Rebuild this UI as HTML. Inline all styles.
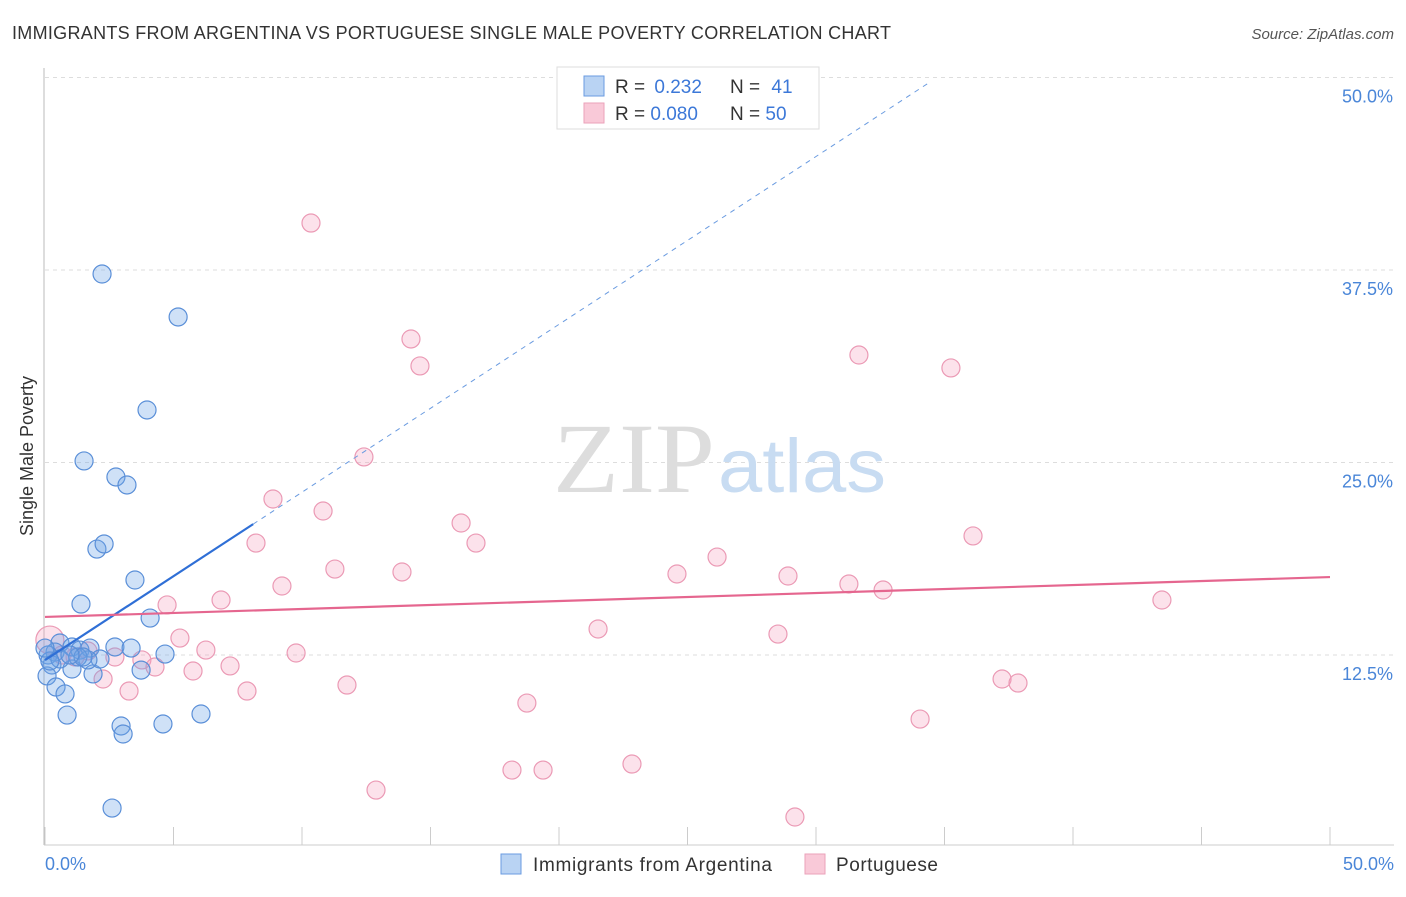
<!DOCTYPE html>
<html><head><meta charset="utf-8"><style>
body{margin:0;background:#fff;font-family:"Liberation Sans",sans-serif;}
</style></head><body>
<svg width="1406" height="892" xmlns="http://www.w3.org/2000/svg" style="font-family:'Liberation Sans',sans-serif">
<text x="12" y="39" font-size="18" fill="#333" textLength="879" lengthAdjust="spacing">IMMIGRANTS FROM ARGENTINA VS PORTUGUESE SINGLE MALE POVERTY CORRELATION CHART</text>
<text x="1394" y="39" font-size="15" fill="#555" text-anchor="end" font-style="italic">Source: ZipAtlas.com</text>
<text x="33" y="456" font-size="18" fill="#333" text-anchor="middle" transform="rotate(-90 33 456)">Single Male Poverty</text>
<g id="grid"></g>
<line x1="44" y1="68" x2="44" y2="845" stroke="#bbb"/>
<line x1="44" y1="845" x2="1394" y2="845" stroke="#ccc"/>
<text x="553" y="492" font-size="100" fill="#ddd" font-family="Liberation Serif,serif" textLength="162" lengthAdjust="spacingAndGlyphs">ZIP</text>
<text x="718" y="492" font-size="76" fill="#c8dcf2" textLength="168" lengthAdjust="spacingAndGlyphs">atlas</text>
<g id="marks"></g>
<g>
<rect x="557" y="67" width="262" height="62" fill="#fff" stroke="#ddd"/>
<rect x="584" y="76" width="20" height="20" fill="#b9d3f3" stroke="#6a9be0"/>
<rect x="584" y="103" width="20" height="20" fill="#f9c9d8" stroke="#eba2ba"/>
<text x="615" y="93" font-size="19" fill="#333">R = <tspan fill="#3c78d8" dx="4">0.232</tspan></text>
<text x="730" y="93" font-size="19" fill="#333">N = <tspan fill="#3c78d8" dx="6">41</tspan></text>
<text x="615" y="120" font-size="19" fill="#333">R = <tspan fill="#3c78d8">0.080</tspan></text>
<text x="730" y="120" font-size="19" fill="#333">N = <tspan fill="#3c78d8">50</tspan></text>
</g>
<g>
<rect x="501" y="854" width="20" height="20" fill="#b9d3f3" stroke="#6a9be0"/>
<text x="533" y="871" font-size="19" fill="#333" textLength="239" lengthAdjust="spacing">Immigrants from Argentina</text>
<rect x="805" y="854" width="20" height="20" fill="#f9c9d8" stroke="#eba2ba"/>
<text x="836" y="871" font-size="19" fill="#333" textLength="102" lengthAdjust="spacing">Portuguese</text>
</g>
<text x="45" y="870" font-size="18" fill="#4a86d8">0.0%</text>
<text x="1394" y="870" font-size="18" fill="#4a86d8" text-anchor="end">50.0%</text>
</svg>
<script>
const yTicks=[12.5,25,37.5,50];
const yTickLabels=["12.5%","25.0%","37.5%","50.0%"];
const xTicks=[0,5,10,15,20,25,30,35,40,45,50];
const blueX=[2.22,5.18,3.97,1.52,2.76,3.19,2.02,2.30,3.50,1.40,4.09,2.72,3.35,4.67,3.74,0.58,1.05,1.36,1.75,0.39,0.12,0.27,0.08,0.43,0.78,1.05,1.87,2.14,1.67,1.28,0.58,0.19,0.86,6.07,2.96,4.59,3.04,2.61,0,1.48,0.97];
const blueY=[37.24,34.45,28.41,25.10,24.06,23.54,19.38,19.71,17.37,15.81,14.90,13.02,12.95,12.56,11.52,13.28,13.02,12.82,12.95,12.69,12.50,11.85,11.14,10.42,9.97,11.59,11.27,12.24,12.18,12.37,12.24,12.11,8.60,8.67,7.89,8.02,7.37,2.56,12.95,12.37,12.50];
const pinkX=[10.35,14.24,14.59,31.67,35.25,12.41,8.87,10.82,16.19,16.77,8.21,36.11,26.15,24.59,28.91,11.28,13.89,9.22,31.28,32.61,43.46,6.85,4.75,21.52,28.52,5.25,6.26,9.77,2.72,3.77,4.28,5.76,7.20,2.26,11.75,7.86,3.27,37.24,37.86,18.75,34.05,18.17,19.38,22.84,12.88,29.18,0.19,0.66,1.17,1.67];
const pinkY=[40.55,33.02,31.27,31.98,31.14,25.36,22.63,21.85,21.07,19.77,19.77,20.23,18.86,17.76,17.63,18.08,17.89,16.98,17.11,16.72,16.07,16.07,15.75,14.19,13.86,13.60,12.82,12.63,12.37,12.18,11.72,11.46,11.79,10.94,10.55,10.16,10.16,10.94,10.68,9.38,8.34,5.03,5.03,5.42,3.73,1.98,13.47,12.50,12.37,12.76];
const blueTrend=[12.17,1.09];
const pinkTrend=[14.97,0.0518];
const NS="http://www.w3.org/2000/svg";
const X=v=>45+v/50*1285;
const Y=v=>847.5-v/12.5*192.5;
function mk(tag,attrs,parent){const e=document.createElementNS(NS,tag);for(const k in attrs)e.setAttribute(k,attrs[k]);parent.appendChild(e);return e;}
const grid=document.getElementById('grid');
yTicks.forEach((t,i)=>{
 const l=mk('line',{x1:45,x2:1394,y1:Y(t),y2:Y(t),stroke:'#ddd','stroke-dasharray':'4,4'},grid);
 
 
 const tx=mk('text',{x:1393,y:Y(t)+25,'font-size':18,fill:'#4a86d8','text-anchor':'end'},grid);
 tx.textContent=yTickLabels[i];
 
 
});
xTicks.forEach(t=>{
 const l=mk('line',{x1:X(t),x2:X(t),y1:827,y2:845,stroke:'#ccc'},grid);
 
 
});
const m=document.getElementById('marks');
pinkX.forEach((x,i)=>{
 const c=mk('circle',{cx:X(x),cy:Y(pinkY[i]),r:i==46?14:9,fill:'rgba(244,160,188,0.3)',stroke:'#eb9ab5','stroke-width':1.2},m);
 
 
});
blueX.forEach((x,i)=>{
 const c=mk('circle',{cx:X(x),cy:Y(blueY[i]),r:9,fill:'rgba(110,165,230,0.33)',stroke:'#5a8fd8','stroke-width':1.2},m);
 
 
});
const bx1=8.1,bx2=34.4;
let l=mk('line',{x1:X(0),y1:Y(blueTrend[0]),x2:X(bx1),y2:Y(blueTrend[0]+blueTrend[1]*bx1),stroke:'#2f6fd6','stroke-width':2.2},m);


l=mk('line',{x1:X(bx1),y1:Y(blueTrend[0]+blueTrend[1]*bx1),x2:X(bx2),y2:Y(blueTrend[0]+blueTrend[1]*bx2),stroke:'#6a9be0','stroke-width':1,'stroke-dasharray':'5,5'},m);


l=mk('line',{x1:X(0),y1:Y(pinkTrend[0]),x2:X(50),y2:Y(pinkTrend[0]+pinkTrend[1]*50),stroke:'#e5668f','stroke-width':2.2},m);


</script>
</body></html>
